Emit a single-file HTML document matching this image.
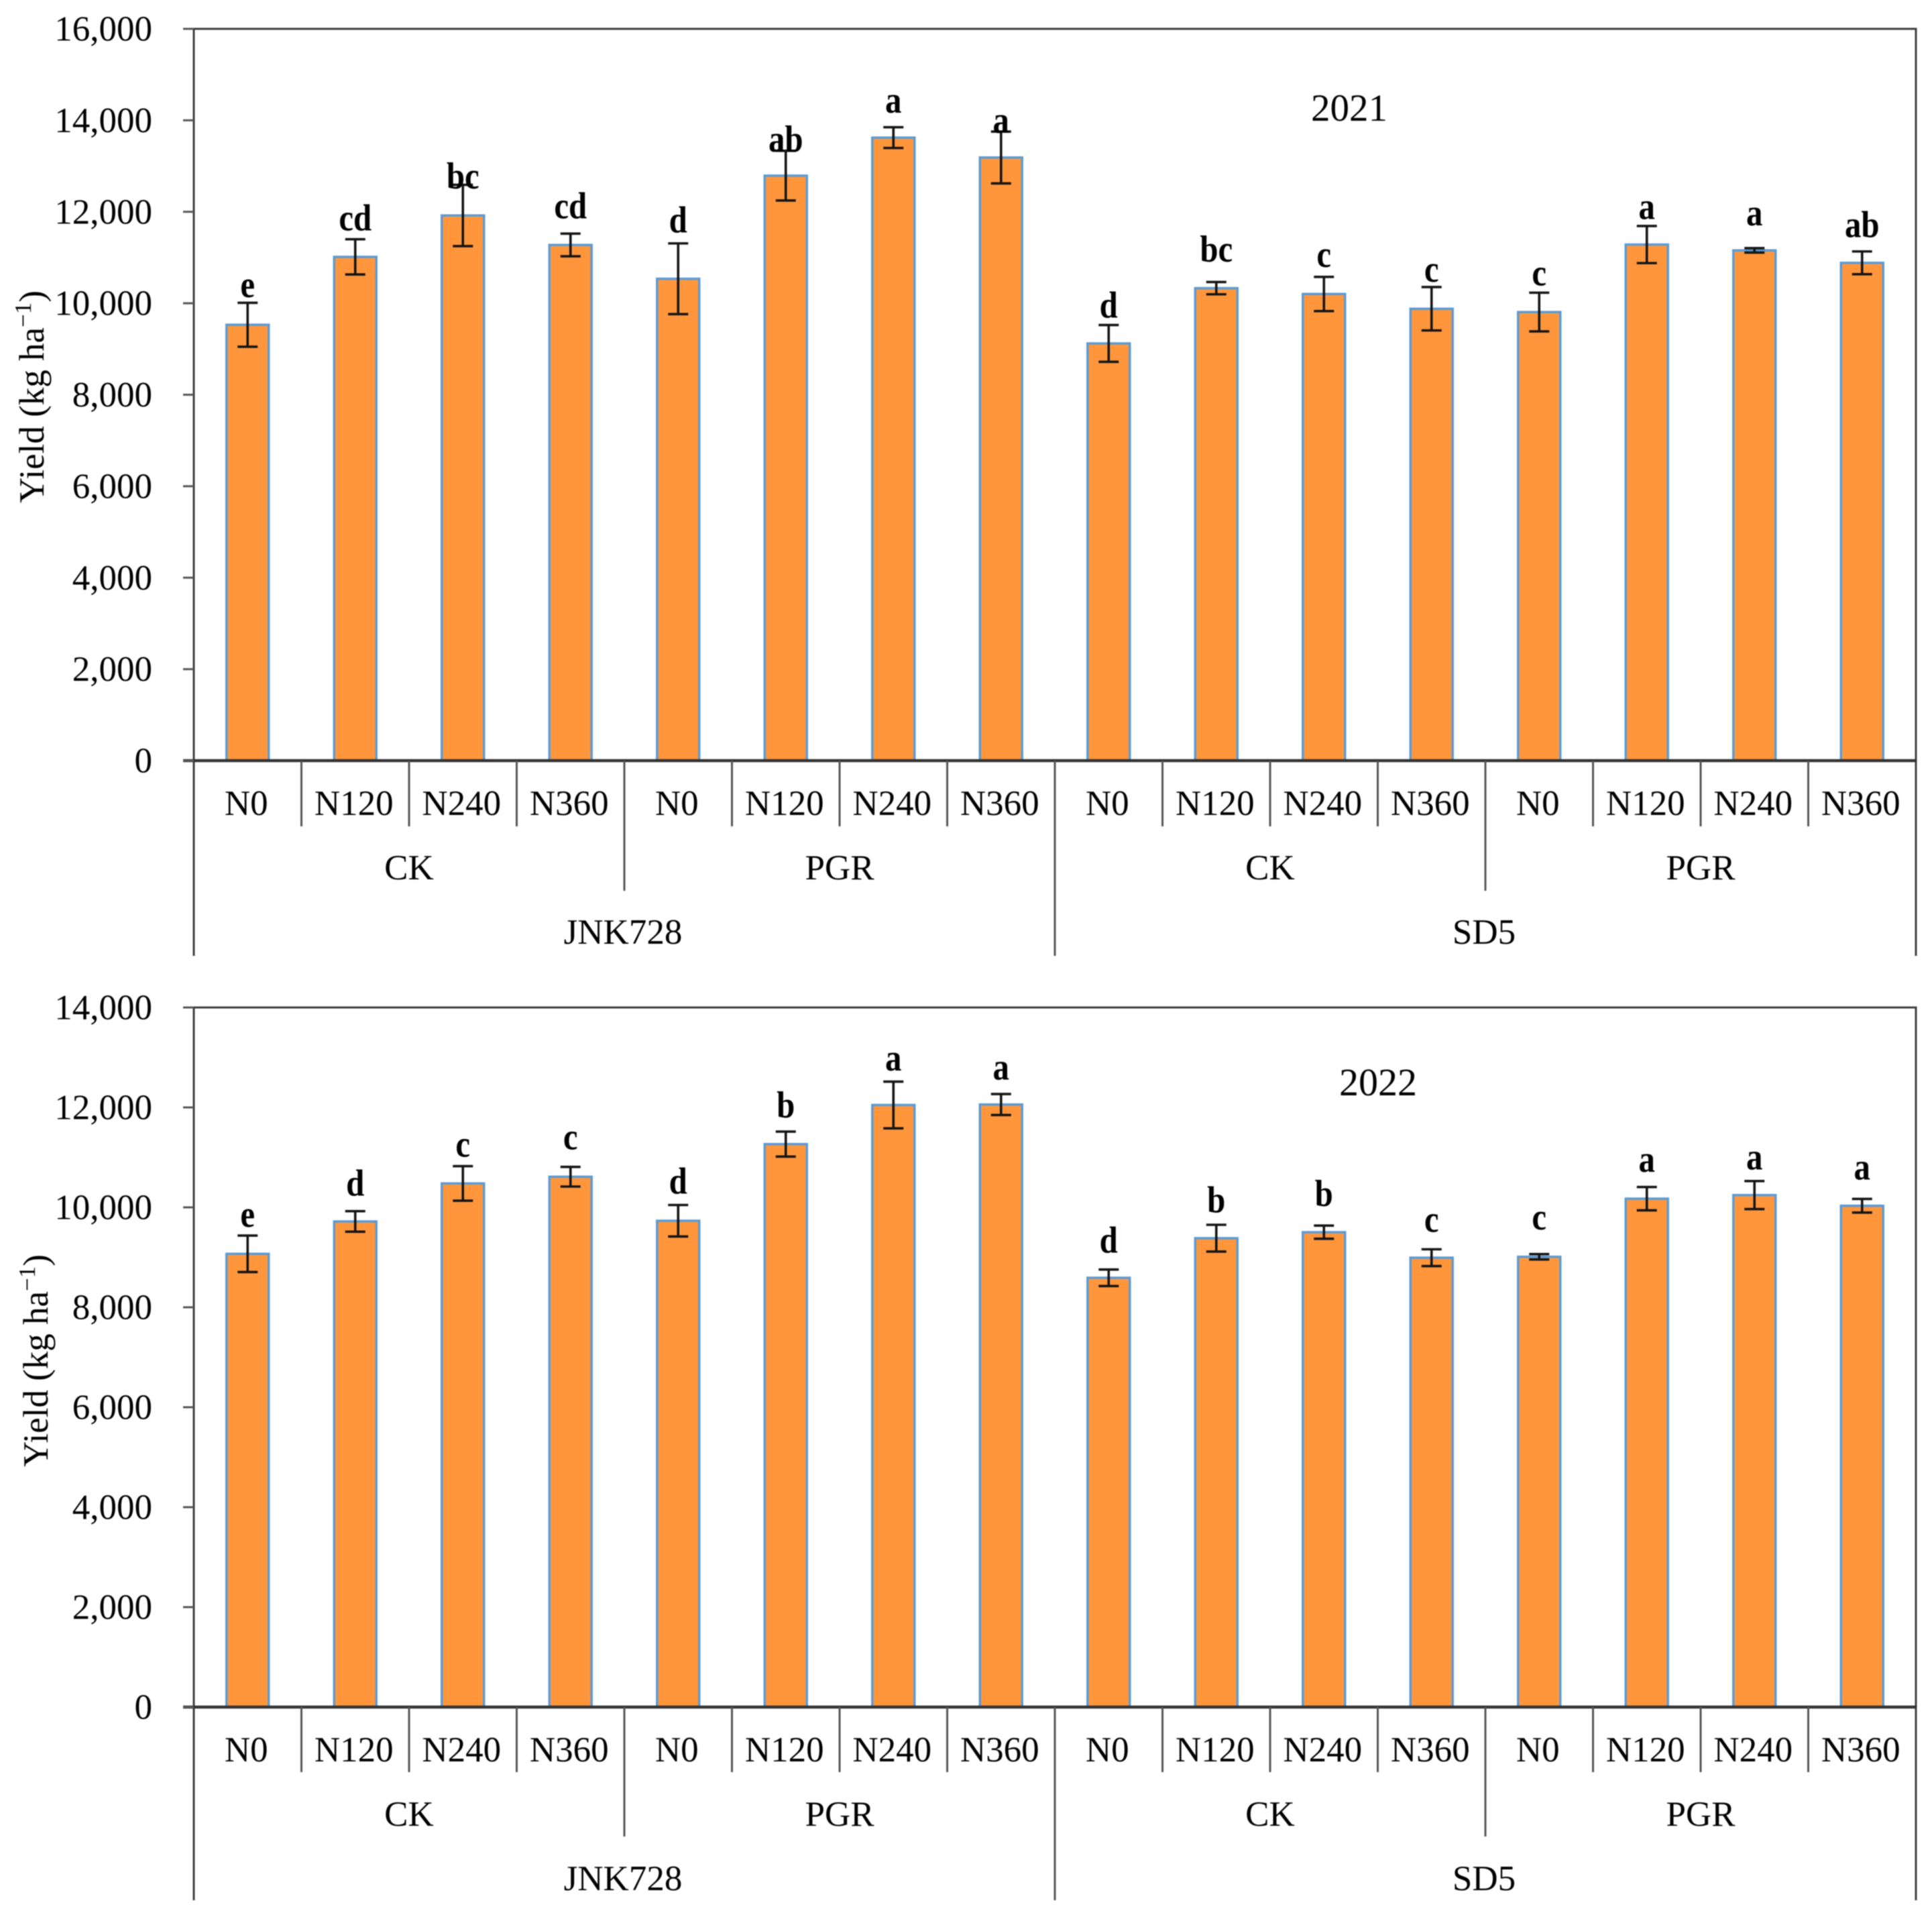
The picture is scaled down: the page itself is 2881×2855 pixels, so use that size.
<!DOCTYPE html>
<html lang="en">
<head>
<meta charset="utf-8">
<title>Yield by nitrogen rate, 2021 and 2022</title>
<style>
  html, body { margin: 0; padding: 0; background: #fff; }
  #figure { display: block; width: 2881px; height: 2855px; filter: blur(0.7px); }
  text { font-family: "Liberation Serif", "Times New Roman", serif; fill: #000; }
</style>
</head>
<body>
<svg id="figure" xmlns="http://www.w3.org/2000/svg" width="2881" height="2855" viewBox="0 0 2881 2855">
  <rect x="0" y="0" width="2881" height="2855" fill="#ffffff"/>
  <g id="chart-2021"></g>
  <g id="chart-2022"></g>
  <text x="2012" y="180" font-size="57" text-anchor="middle">2021</text>
  <text x="2055" y="1633" font-size="58" text-anchor="middle">2022</text>
  <text transform="translate(65,750) rotate(-90)" font-size="53">Yield (kg ha<tspan font-size="35" dy="-19">−1</tspan><tspan dy="19">)</tspan></text>
  <text transform="translate(71,2187) rotate(-90)" font-size="53">Yield (kg ha<tspan font-size="35" dy="-19">−1</tspan><tspan dy="19">)</tspan></text>
</svg>
<script>
// Shared categories
const nitrogenRates = ['N0', 'N120', 'N240', 'N360', 'N0', 'N120', 'N240', 'N360', 'N0', 'N120', 'N240', 'N360', 'N0', 'N120', 'N240', 'N360'];
const treatments = ['CK', 'PGR', 'CK', 'PGR'];
const cultivars = ['JNK728', 'SD5'];

// 2021 (kg/ha)
const yield2021 = [9530, 11015, 11920, 11275, 10536, 12790, 13622, 13187, 9122, 10330, 10203, 9880, 9808, 11284, 11157, 10884];
const error2021 = [480, 385, 670, 247, 773, 543, 227, 567, 403, 134, 374, 474, 423, 406, 49, 249];
const letters2021 = ['e', 'cd', 'bc', 'cd', 'd', 'ab', 'a', 'a', 'd', 'bc', 'c', 'c', 'c', 'a', 'a', 'ab'];
const letterLift2021 = [123, 195, -84, 332, 240, -20, 318, -24, 161, 450, 220, 117, 157, 151, 499, 313];
const tickValues2021 = [0, 2000, 4000, 6000, 8000, 10000, 12000, 14000, 16000];
const tickLabels2021 = ['0', '2,000', '4,000', '6,000', '8,000', '10,000', '12,000', '14,000', '16,000'];

// 2022 (kg/ha)
const yield2022 = [9070, 9718, 10479, 10613, 9732, 11266, 12049, 12058, 8591, 9383, 9503, 8993, 9011, 10174, 10246, 10032];
const error2022 = [365, 206, 345, 197, 315, 250, 467, 210, 165, 268, 132, 168, 54, 233, 280, 137];
const letters2022 = ['e', 'd', 'c', 'c', 'd', 'b', 'a', 'a', 'd', 'b', 'b', 'c', 'c', 'a', 'a', 'a'];
const letterLift2022 = [174, 313, 192, 349, 228, 286, 223, 291, 341, 251, 389, 349, 493, 303, 234, 389];
const tickValues2022 = [0, 2000, 4000, 6000, 8000, 10000, 12000, 14000];
const tickLabels2022 = ['0', '2,000', '4,000', '6,000', '8,000', '10,000', '12,000', '14,000'];

const SVG_NS = 'http://www.w3.org/2000/svg';
const plotLeft = 289;
const plotRight = 2857;
const tickLeft = 273;
const barWidth = 63;
const capHalf = 15;

function make(parent, tag) {
  const node = document.createElementNS(SVG_NS, tag);
  parent.appendChild(node);
  return node;
}
function line(node, x1, y1, x2, y2, color, width) {
  node.setAttribute('x1', x1);
  node.setAttribute('y1', y1);
  node.setAttribute('x2', x2);
  node.setAttribute('y2', y2);
  node.setAttribute('stroke', color);
  node.setAttribute('stroke-width', width);
}
function label(node, x, y, size, anchor, content) {
  node.setAttribute('x', x);
  node.setAttribute('y', y);
  node.setAttribute('font-size', size);
  node.setAttribute('text-anchor', anchor);
  node.textContent = content;
}

function drawChart(year, groupId, plotTop, plotBottom, domainMax, tier1, tier2, tier3, values, errors, letters, lifts, tickValues, tickLabels) {
  const root = document.getElementById(groupId);
  const yPos = function (v) { return plotBottom - (v / domainMax) * (plotBottom - plotTop); };
  const step = (plotRight - plotLeft) / values.length;
  const xPos = function (i) { return plotLeft + step * (i + 0.5); };

  // bars
  values.forEach(function (v, i) {
    const el = make(root, 'rect');
    
    
    el.setAttribute('x', xPos(i) - barWidth / 2);
    el.setAttribute('y', yPos(v));
    el.setAttribute('width', barWidth);
    el.setAttribute('height', plotBottom - yPos(v));
    el.setAttribute('fill', '#ff963c');
    el.setAttribute('stroke', '#5b9bd5');
    el.setAttribute('stroke-width', 3.5);
  });

  // error bars
  values.forEach(function (v, i) {
    const el = make(root, 'path');
    
    
    const hi = yPos(v + errors[i]);
    const lo = yPos(v - errors[i]);
    const cx = xPos(i);
    el.setAttribute('d', 'M' + (cx - capHalf) + ' ' + hi + 'H' + (cx + capHalf) + 'M' + cx + ' ' + hi + 'V' + lo + 'M' + (cx - capHalf) + ' ' + lo + 'H' + (cx + capHalf));
    el.setAttribute('stroke', '#141414');
    el.setAttribute('stroke-width', 3.6);
    el.setAttribute('fill', 'none');
  });

  // significance letters: slightly narrower and taller than plain bold
  letters.forEach(function (t, i) {
    const el = make(root, 'text');
    
    
    el.setAttribute('font-weight', 'bold');
    label(el, 0, 0, 52, 'middle', t);
    el.setAttribute('transform', 'translate(' + xPos(i) + ',' + yPos(values[i] + errors[i] + lifts[i]) + ') scale(0.94,1.08)');
  });

  // frame
  const frameTop = make(root, 'line');
  
  
  line(frameTop, tickLeft, plotTop, plotRight + 1.5, plotTop, '#3c3c3c', 3);

  const frameRight = make(root, 'line');
  
  
  line(frameRight, plotRight, plotTop, plotRight, plotBottom + tier3, '#3c3c3c', 3);

  const axisY = make(root, 'line');
  
  
  line(axisY, plotLeft, plotTop, plotLeft, plotBottom + tier3, '#3c3c3c', 3);

  const axisX = make(root, 'line');
  
  
  line(axisX, tickLeft, plotBottom, plotRight + 1.5, plotBottom, '#333333', 4.5);

  // y ticks and labels
  tickValues.forEach(function (v, i) {
    const tick = make(root, 'line');
    
    
    line(tick, tickLeft, yPos(v), plotLeft, yPos(v), '#555555', 3);

    const text = make(root, 'text');
    
    
    label(text, 227, yPos(v) + 17.5, 53, 'end', tickLabels[i]);
  });

  // category separators
  for (let i = 1; i < values.length; i++) {
    if (i === 8) { continue; }
    const sep = make(root, 'line');
    
    
    const depth = i % 4 === 0 ? tier2 : tier1;
    line(sep, plotLeft + step * i, plotBottom, plotLeft + step * i, plotBottom + depth, '#555555', 3);
  }
  const midSep = make(root, 'line');
  
  
  line(midSep, plotLeft + step * 8, plotBottom, plotLeft + step * 8, plotBottom + tier3, '#555555', 3);

  // category labels
  nitrogenRates.forEach(function (t, i) {
    const text = make(root, 'text');
    
    
    label(text, xPos(i) - 2, plotBottom + 81, 53, 'middle', t);
  });
  treatments.forEach(function (t, i) {
    const text = make(root, 'text');
    
    
    label(text, plotLeft + step * (4 * i + 2), plotBottom + 177, 53, 'middle', t);
  });
  cultivars.forEach(function (t, i) {
    const text = make(root, 'text');
    
    
    label(text, plotLeft + step * (8 * i + 4) - 2, plotBottom + 273, 53, 'middle', t);
  });
}

drawChart('2021', 'chart-2021', 43, 1134, 16000, 98, 194, 291, yield2021, error2021, letters2021, letterLift2021, tickValues2021, tickLabels2021);
drawChart('2022', 'chart-2022', 1502, 2545, 14000, 97, 193, 288, yield2022, error2022, letters2022, letterLift2022, tickValues2022, tickLabels2022);
</script>
</body>
</html>
